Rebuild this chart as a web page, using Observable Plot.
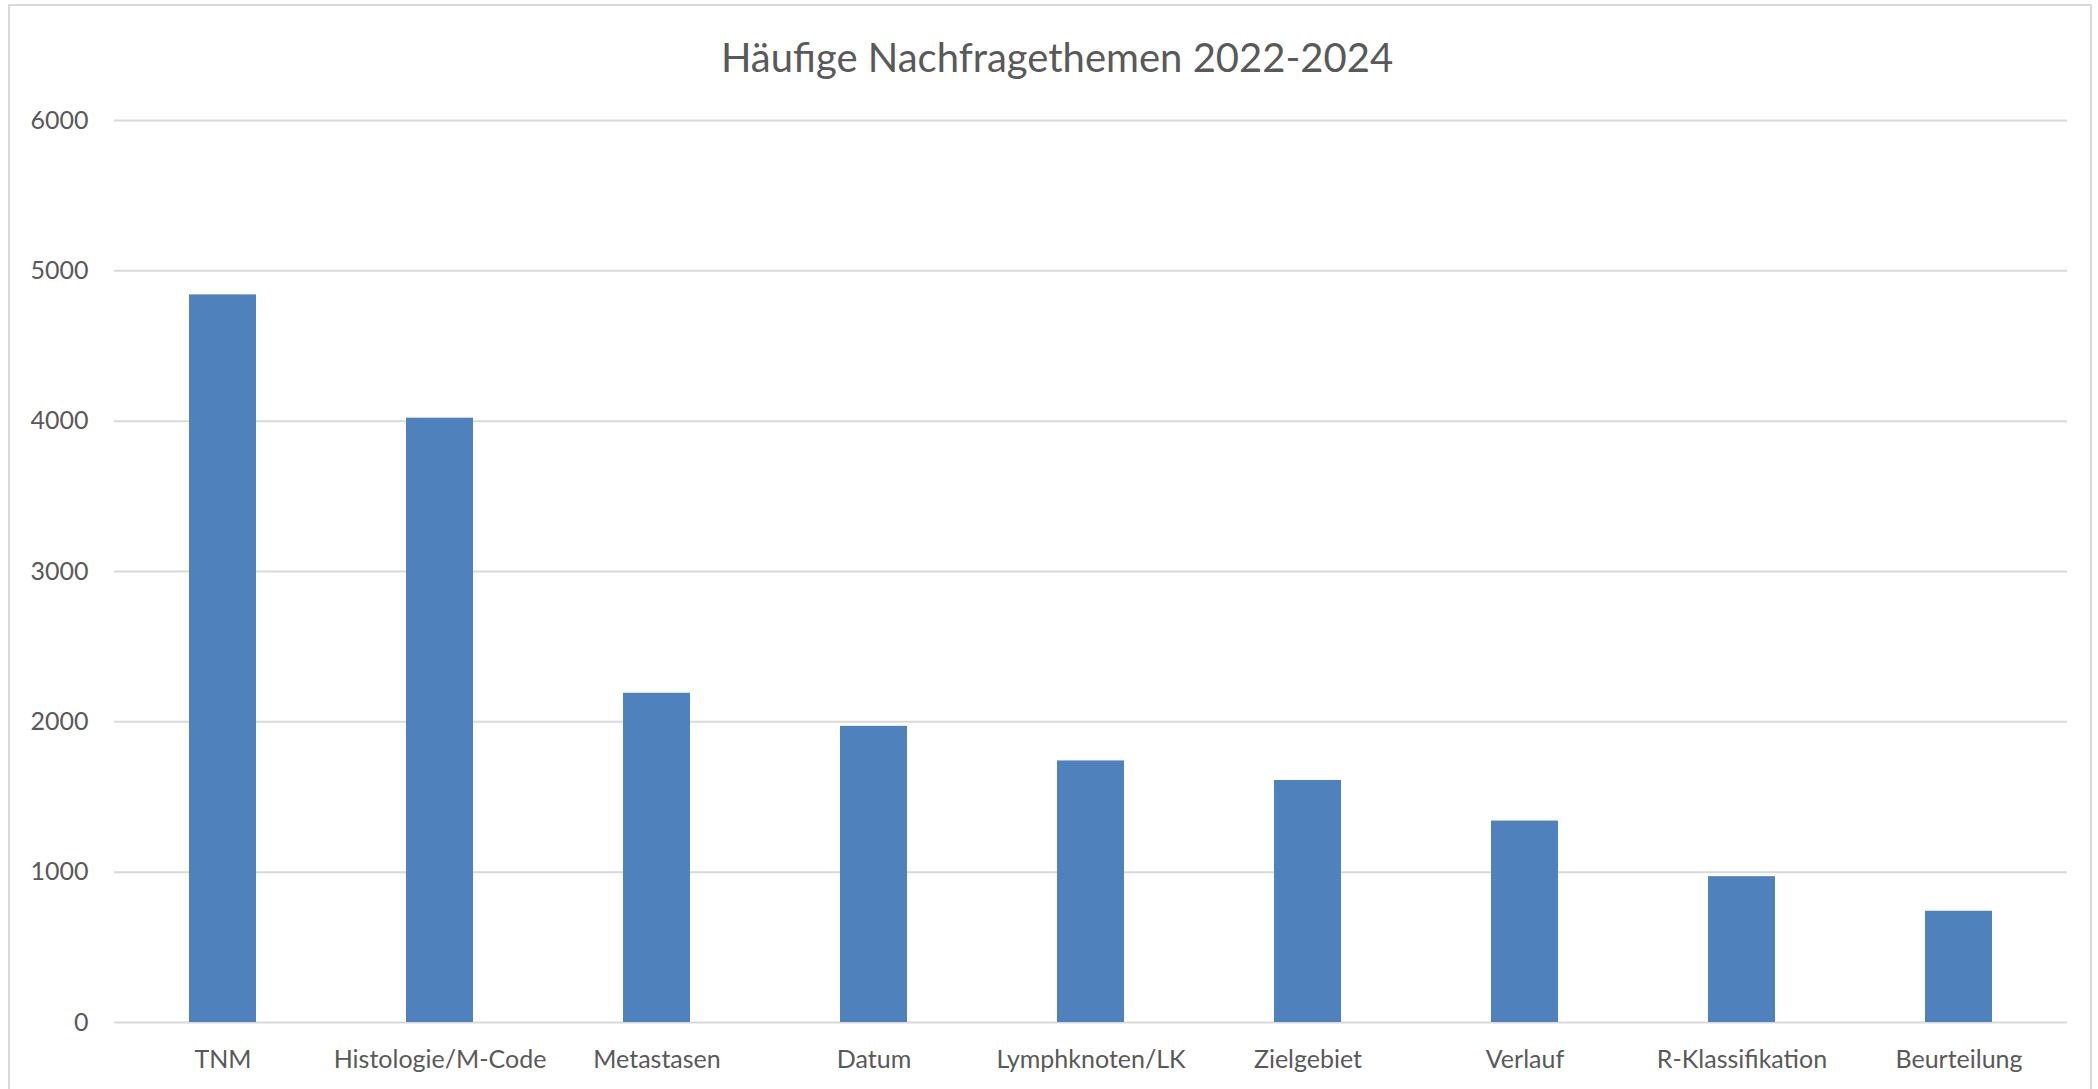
<!DOCTYPE html>
<html>
<head>
<meta charset="utf-8">
<script src="https://cdn.jsdelivr.net/npm/d3@7"></script>
<script src="https://cdn.jsdelivr.net/npm/@observablehq/plot@0.6"></script>
<style>
  html, body { margin: 0; padding: 0; background: #fff; }
  #wrap { position: relative; width: 2098px; height: 1089px; overflow: hidden; font-family: Lato, "Open Sans", sans-serif; }
  #frame { position: absolute; left: 8px; top: 4px; width: 2084px; height: 1100px; border: 2px solid #d9d9d9; box-sizing: border-box; }
  #title { position: absolute; left: 0; top: 33px; width: 2114px; text-align: center; font-size: 40px; color: #595959; line-height: 48px; }
  #chart { position: absolute; left: 0; top: 80px; }
</style>
</head>
<body>
<div id="wrap">
  <div id="frame"></div>
  <div id="title">Häufige Nachfragethemen 2022-2024</div>
  <div id="chart"></div>
</div>
<script>
const categories = ["TNM", "Histologie/M-Code", "Metastasen", "Datum", "Lymphknoten/LK", "Zielgebiet", "Verlauf", "R-Klassifikation", "Beurteilung"];
const values = [4840, 4020, 2190, 1970, 1740, 1610, 1340, 970, 740];
const yTicks = [0, 1000, 2000, 3000, 4000, 5000, 6000];

const data = categories.map((c, i) => ({category: c, value: values[i]}));

const chart = Plot.plot({
  width: 2098,
  height: 1000,
  marginLeft: 114,
  marginRight: 31,
  marginTop: 40,
  marginBottom: 58,
  style: {fontFamily: "Lato, 'Open Sans', sans-serif", fontSize: "25px", color: "#595959", background: "transparent"},
  x: {domain: categories, paddingInner: 0.69, paddingOuter: 0.345, align: 0.5, label: null},
  y: {domain: [0, 6000], label: null},
  marks: [
    Plot.ruleY(yTicks, {stroke: "#d9d9d9", strokeWidth: 2}),
    Plot.barY(data, {x: "category", y: "value", fill: "#4f81bd"}),
    Plot.axisX({tickSize: 0, tickPadding: 28, fontSize: 25, fill: "#595959", label: null}),
    Plot.axisY({ticks: yTicks, tickFormat: d => String(d), tickSize: 0, tickPadding: 26, fontSize: 25, fill: "#595959", label: null})
  ]
});
document.getElementById("chart").appendChild(chart);
</script>
</body>
</html>
